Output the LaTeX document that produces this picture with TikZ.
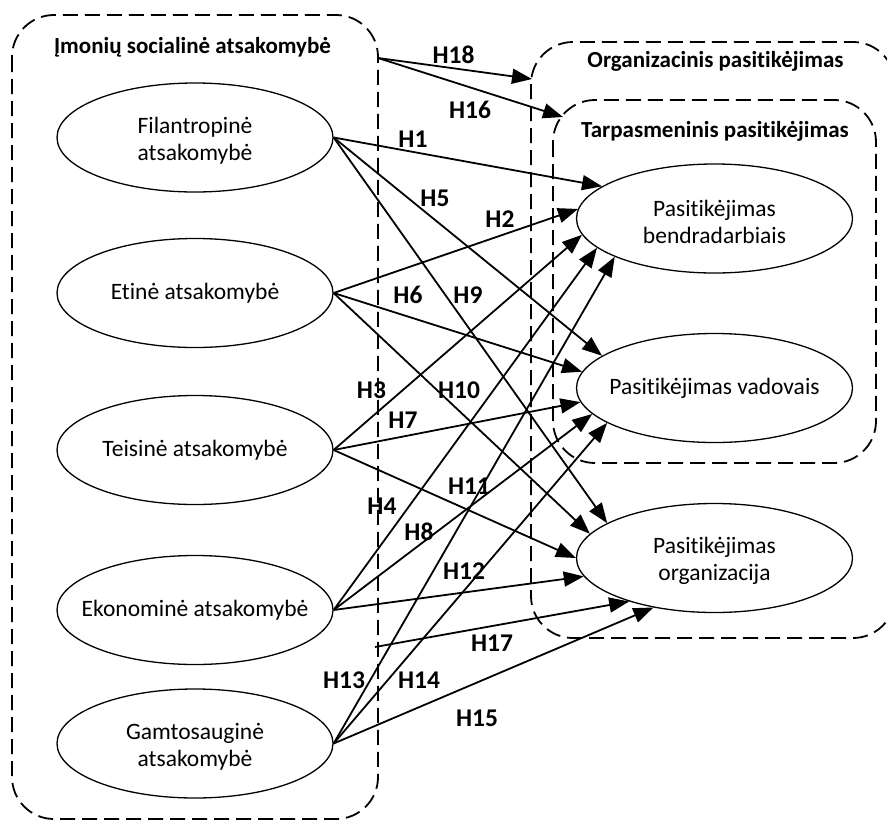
\documentclass[tikz,border=0pt]{standalone}
\usepackage{fontspec}
\setmainfont[Ligatures=NoCommon]{Carlito}
\usetikzlibrary{shapes.geometric,arrows.meta}
\begin{document}
\begin{tikzpicture}[x=1pt,y=-1pt,
  grp/.style={draw, dash pattern=on 15pt off 7pt, line width=1.8pt, rounded corners=42pt},
  ell/.style={draw, ellipse, line width=1.3pt, minimum width=276pt, minimum height=109pt, inner sep=0pt},
  etxt/.style={align=center, font=\fontsize{23.5}{27}\selectfont, inner sep=0pt},
  head/.style={font=\bfseries\fontsize{23}{27}\selectfont, inner sep=0pt, anchor=base},
  hyp/.style={font=\bfseries\fontsize{25.5}{30}\selectfont, inner sep=0pt},
  arr/.style={-{Triangle[length=20pt,width=15pt]}, line width=1.8pt}]
\path[use as bounding box, clip] (0,0) rectangle (887,820);

% dashed group frames
\draw[grp] (12,15) rectangle (378,819);
\draw[grp] (531,42) rectangle (895,638);
\draw[grp] (553,100) rectangle (876,463);

% group headings
\node[head] (hIsa) at (192.5,53) {Įmonių socialinė atsakomybė};
\node[head] (hOrg) at (715.5,67) {Organizacinis pasitikėjimas};
\node[head] (hTar) at (715,137) {Tarpasmeninis pasitikėjimas};

% CSR dimensions
\node[ell] (fil) at (195,137.5) {};
\node[etxt, yshift=-3pt] (filT) at (fil) {Filantropinė\\atsakomybė};
\node[ell] (eti) at (195,293) {};
\node[etxt] (etiT) at (eti) {Etinė atsakomybė};
\node[ell] (tei) at (195,450) {};
\node[etxt] (teiT) at (tei) {Teisinė atsakomybė};
\node[ell] (eko) at (195,610) {};
\node[etxt] (ekoT) at (eko) {Ekonominė atsakomybė};
\node[ell] (gam) at (195,743.5) {};
\node[etxt, yshift=-3pt] (gamT) at (gam) {Gamtosauginė\\atsakomybė};

% trust dimensions
\node[ell] (ben) at (714.5,218.5) {};
\node[etxt, yshift=-3pt] (benT) at (ben) {Pasitikėjimas\\bendradarbiais};
\node[ell] (vad) at (714.5,388) {};
\node[etxt] (vadT) at (vad) {Pasitikėjimas vadovais};
\node[ell] (org) at (714.5,558) {};
\node[etxt, yshift=-3pt] (orgT) at (org) {Pasitikėjimas\\organizacija};

% hypotheses paths
\draw[arr] (fil.east) -- (ben.164.6);
\draw[arr] (fil.east) -- (vad.164.9);
\draw[arr] (fil.east) -- (org.162.9);
\draw[arr] (eti.east) -- (ben.176);
\draw[arr] (eti.east) -- (vad.173.6);
\draw[arr] (eti.east) -- (org.169.5);
\draw[arr] (tei.east) -- (ben.187.5);
\draw[arr] (tei.east) -- (vad.186.7);
\draw[arr] (tei.east) -- (org.180.8);
\draw[arr] (eko.east) -- (ben.194.6);
\draw[arr] (eko.east) -- (vad.192.2);
\draw[arr] (eko.east) -- (org.188.2);
\draw[arr] (gam.east) -- (ben.201.3);
\draw[arr] (gam.east) -- (vad.198.4);
\draw[arr] (gam.east) -- (org.219.1);

\coordinate (isaSide) at (375,647);
\draw[arr] (isaSide) -- (org.207.2);
\coordinate (isaCorner) at (378,58);
\coordinate (orgFrame) at (532,79);
\coordinate (tarFrame) at (563,117);
\draw[arr] (isaCorner) -- (orgFrame);
\draw[arr] (isaCorner) -- (tarFrame);

% hypothesis labels
\node[hyp] (lH18) at (453.5,55) {H18};
\node[hyp] (lH16) at (470,109.5) {H16};
\node[hyp] (lH1) at (413,139) {H1};
\node[hyp] (lH5) at (435,198) {H5};
\node[hyp] (lH2) at (500,219.5) {H2};
\node[hyp] (lH6) at (408,295) {H6};
\node[hyp] (lH9) at (468,295) {H9};
\node[hyp] (lH3) at (371.5,390) {H3};
\node[hyp] (lH10) at (459,390) {H10};
\node[hyp] (lH7) at (403,420) {H7};
\node[hyp] (lH11) at (469,486) {H11};
\node[hyp] (lH4) at (382,506.5) {H4};
\node[hyp] (lH8) at (419,532) {H8};
\node[hyp] (lH12) at (464,571.5) {H12};
\node[hyp] (lH17) at (492,643.5) {H17};
\node[hyp] (lH13) at (344,680) {H13};
\node[hyp] (lH14) at (419,680) {H14};
\node[hyp] (lH15) at (477,718.5) {H15};
\end{tikzpicture}
\end{document}
